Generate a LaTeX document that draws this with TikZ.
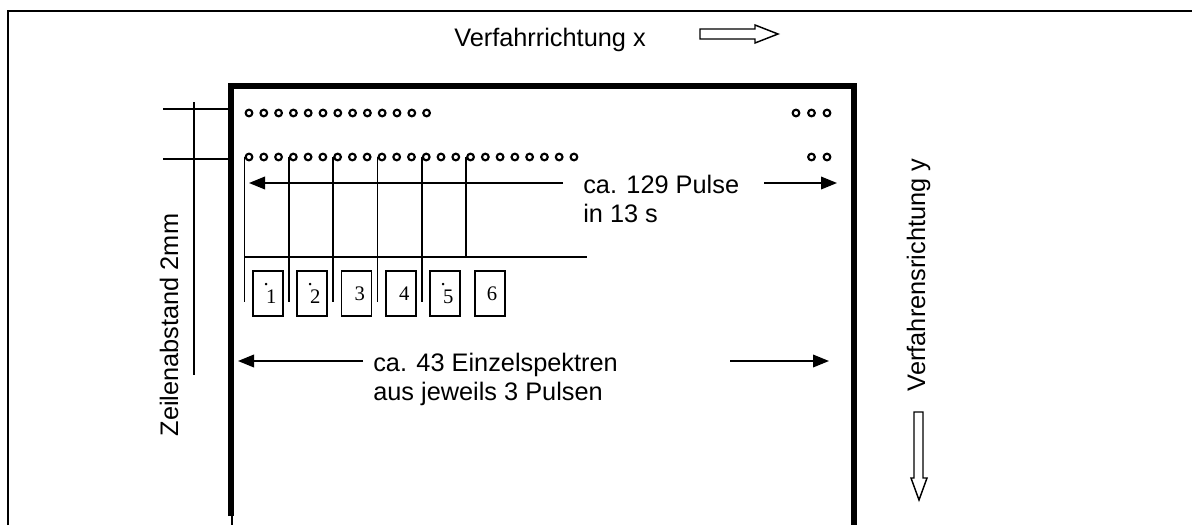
\documentclass[tikz,border=0pt]{standalone}
\usepackage{fontspec}
\setmainfont{Liberation Sans}
\newfontfamily\serifdigits{Liberation Serif}
\usetikzlibrary{arrows.meta}
\begin{document}
\begin{tikzpicture}[x=0.75pt,y=-0.75pt,
  thinline/.style={line width=1.1pt},
  lbl/.style={font=\fontsize{19}{22}\selectfont, inner sep=0pt},
  pulsedot/.style={circle, draw, line width=1.6pt, minimum size=5pt, inner sep=0pt},
  specbox/.style={draw, line width=1.1pt, minimum width=22.5pt, minimum height=33.75pt, inner sep=0pt,
    font=\serifdigits\fontsize{15.5}{18}\selectfont},
  arr/.style={thinline, -{Triangle[length=12pt,width=9.5pt]}},
  hollow/.style={draw, line width=1.1pt, fill=white}
]
\useasboundingbox (0,0) rectangle (1192,525);

% outer frame
\draw[line width=1.5pt] (8,525) -- (8,11) -- (1192,11);

% inner thick frame
\draw[line width=3.9pt] (231,516) -- (231,86) -- (854,86) -- (854,525);
\draw[thinline] (232,516) -- (232,525);

% heading and hollow arrow
\node[lbl, anchor=base] (vx) at (550,46) {Verfahrrichtung x};
\draw[hollow] (700,29) -- (755,29) -- (755,25) -- (778,34) -- (755,43) -- (755,39) -- (700,39) -- cycle;

% left spacing marks
\coordinate (t1a) at (163,109);
\coordinate (t1b) at (230,109);
\coordinate (t2a) at (163,159);
\coordinate (t2b) at (230,159);
\coordinate (va) at (194,102);
\coordinate (vb) at (194,375);
\draw[thinline] (t1a) -- (t1b);
\draw[thinline] (t2a) -- (t2b);
\draw[thinline] (va) -- (vb);
\node[lbl, anchor=base, rotate=90] (za) at (178,325) {Zeilenabstand 2mm};

% dot rows
\foreach \i in {0,...,12} {
  \node[pulsedot] (r1-\i) at ({249+14.8*\i},113) {};
}
\foreach \i in {0,...,22} {
  \node[pulsedot] (r2-\i) at ({249+14.77*\i},157) {};
}
\node[pulsedot] (q1-0) at (796,113) {};
\node[pulsedot] (q1-1) at (811.5,113) {};
\node[pulsedot] (q1-2) at (827,113) {};
\node[pulsedot] (q2-0) at (811.5,157) {};
\node[pulsedot] (q2-1) at (827,157) {};

% verticals from every third pulse
\coordinate (lowend) at (0,302);
\coordinate (hline) at (587,257);
\foreach \i in {0,3,6,9,12} {
  \draw[thinline] (r2-\i.west) -- (r2-\i.west |- lowend);
}
\draw[thinline] (r2-15.west) -- (r2-15.west |- hline);
\draw[thinline] (r2-0.west |- hline) -- (hline);

% spectrum boxes
\node[specbox] (b1) at (268,293.5) {\hspace*{5pt}\llap{\raisebox{14pt}{.}\hspace{-2pt}}1};
\node[specbox] (b2) at (312,293.5) {\hspace*{5pt}\llap{\raisebox{14pt}{.}\hspace{-2pt}}2};
\node[specbox] (b3) at (356.5,293.5) {\hspace*{5pt}3};
\node[specbox] (b4) at (401,293.5) {\hspace*{5pt}4};
\node[specbox] (b5) at (445,293.5) {\hspace*{5pt}\llap{\raisebox{14pt}{.}\hspace{-2pt}}5};
\node[specbox] (b6) at (490,293.5) {\hspace*{3pt}6};

% pulses label and arrows
\node[lbl, anchor=base west] (p1) at (583,193) {ca. 129 Pulse};
\node[lbl, anchor=base west] (p2) at (583,222) {in 13 s};
\coordinate (pl) at (249,183);
\coordinate (pr) at (837,183);
\draw[arr] ([xshift=-15pt]p1.west |- pl) -- (pl);
\draw[arr] ([xshift=18.75pt]p1.east |- pr) -- (pr);

% spectra label and arrows
\node[lbl, anchor=base west] (e1) at (373,371) {ca. 43 Einzelspektren};
\node[lbl, anchor=base west] (e2) at (373,400) {aus jeweils 3 Pulsen};
\coordinate (el) at (238,361);
\coordinate (ea) at (730,361);
\coordinate (er) at (829,361);
\draw[arr] ([xshift=-7.5pt]e1.west |- el) -- (el);
\draw[arr] (ea) -- (er);

% y direction
\node[lbl, anchor=base, rotate=90] (vy) at (925,275) {Verfahrensrichtung y};
\draw[hollow] (914,412) -- (923,412) -- (923,478) -- (927,478) -- (919,500) -- (911,478) -- (914,478) -- cycle;
\end{tikzpicture}
\end{document}
